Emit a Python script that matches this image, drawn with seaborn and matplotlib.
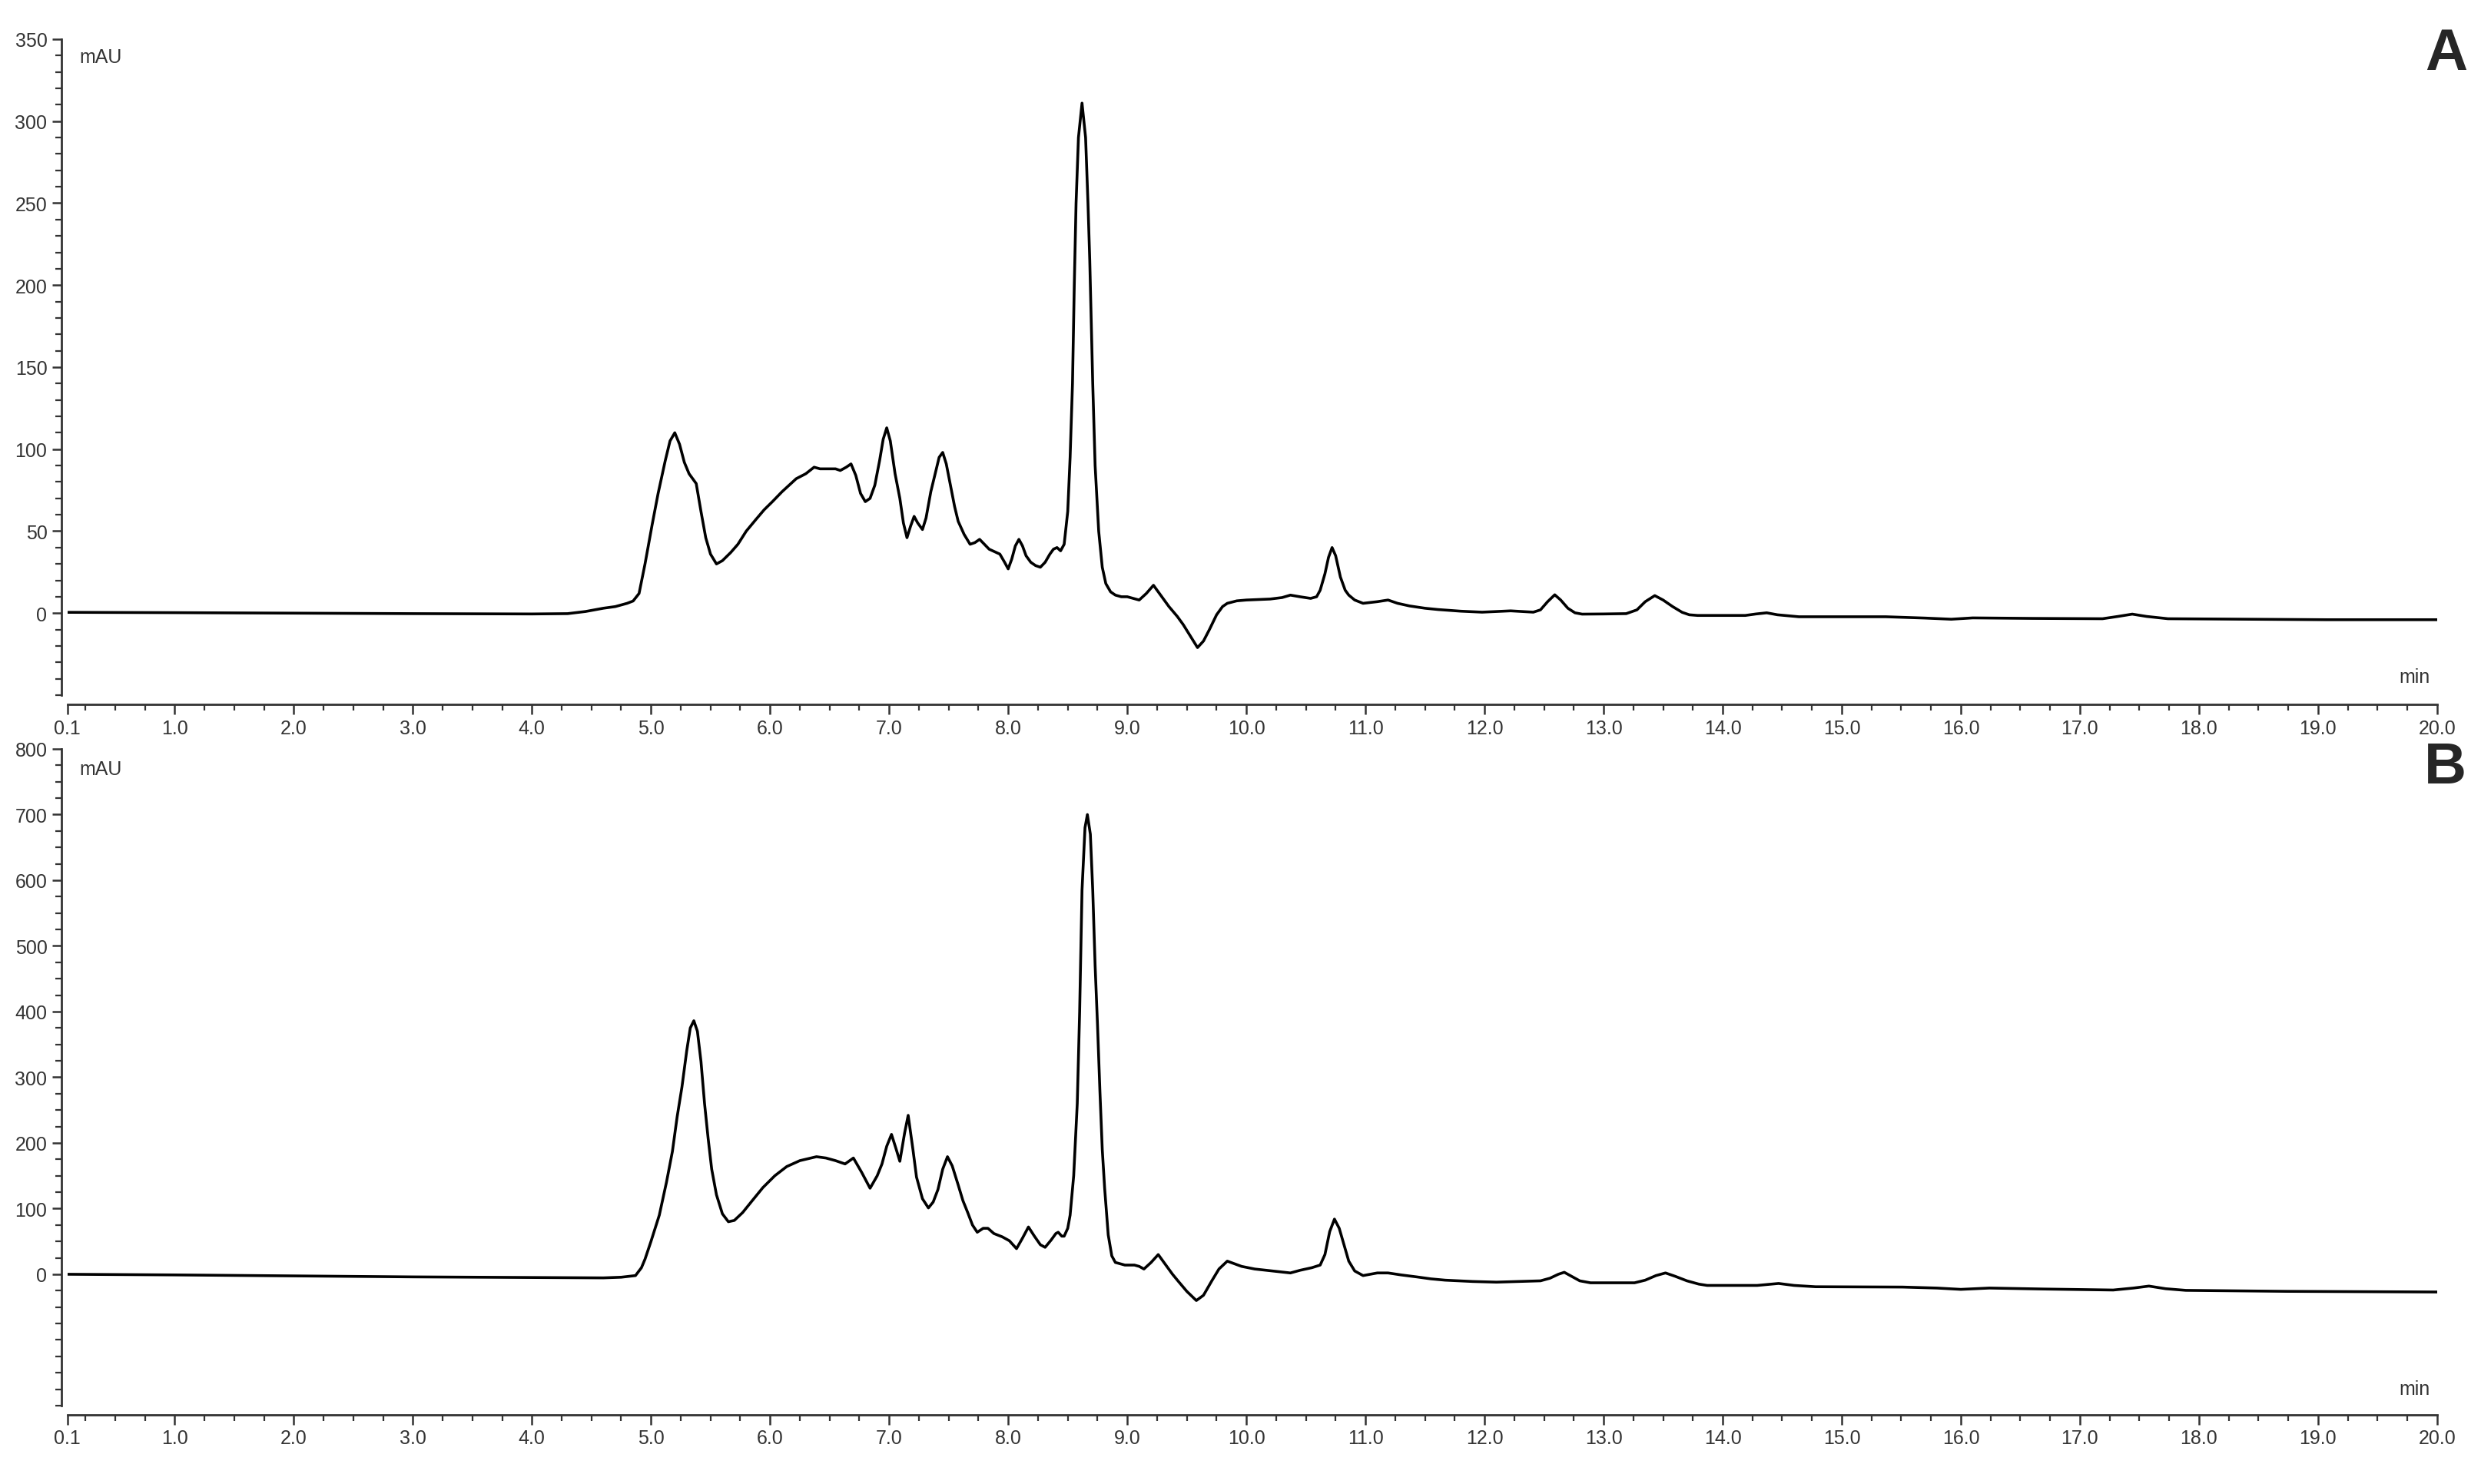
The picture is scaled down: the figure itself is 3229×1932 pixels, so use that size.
import numpy as np
import pandas as pd
import seaborn as sns
import matplotlib.pyplot as plt
from matplotlib.ticker import FixedLocator, MultipleLocator

# chromatogram A (retention time in min, absorbance in mAU)
time_a = [0.1, 1.0, 2.0, 3.0, 4.0, 4.3, 4.45, 4.6, 4.7, 4.8, 4.85, 4.9, 4.95, 5.01, 5.06, 5.12, 5.16, 5.2, 5.24, 5.28, 5.32, 5.38, 5.42, 5.46, 5.5, 5.55,
          5.6, 5.67, 5.73, 5.8, 5.88, 5.95, 6.02, 6.1, 6.16, 6.22, 6.3, 6.37, 6.42, 6.47, 6.51, 6.55, 6.59, 6.64, 6.68, 6.72, 6.76, 6.8, 6.84, 6.88,
          6.92, 6.95, 6.98, 7.01, 7.05, 7.09, 7.12, 7.15, 7.18, 7.21, 7.24, 7.28, 7.31, 7.35, 7.39, 7.42, 7.45, 7.48, 7.52, 7.55,
          7.58, 7.63, 7.68, 7.72, 7.76, 7.8, 7.84, 7.9, 7.93, 7.97, 8.0, 8.03, 8.06, 8.09, 8.12, 8.15, 8.19, 8.23, 8.27, 8.31,
          8.35, 8.38, 8.41, 8.44, 8.47,
          8.5, 8.52, 8.54, 8.555, 8.57, 8.59, 8.62, 8.65, 8.67, 8.685, 8.71, 8.73, 8.76, 8.79, 8.82, 8.86,
          8.9, 8.95, 9.0, 9.05, 9.1, 9.16, 9.22, 9.27, 9.35, 9.42, 9.47, 9.53, 9.59, 9.64, 9.69, 9.75, 9.8, 9.84,
          9.92, 10.0, 10.1, 10.2, 10.3, 10.37, 10.45, 10.54, 10.59, 10.62, 10.66, 10.69, 10.72, 10.75, 10.79, 10.83, 10.86, 10.91, 10.98, 11.1,
          11.19, 11.27, 11.37, 11.5, 11.61, 11.8, 11.98, 12.22, 12.41, 12.47, 12.53, 12.59, 12.64, 12.7, 12.76, 12.82, 13.0, 13.19, 13.28,
          13.35, 13.43, 13.5, 13.58, 13.66, 13.72, 13.79, 14.19, 14.28, 14.37, 14.46, 14.64, 15.37, 15.7, 15.92, 16.1, 16.6, 17.19, 17.32, 17.44,
          17.56, 17.74, 18.4, 19.07, 20.0]
mau_a = [0.5, 0.3, 0.0, -0.3, -0.5, -0.3, 1, 3, 4, 6, 7.4, 12, 30, 54, 73, 93, 105, 110, 103, 92, 85, 79, 62, 46, 36, 30,
         32, 37, 42, 50, 57, 63, 68, 74, 78, 82, 85, 89, 88, 88, 88, 88, 87, 89, 91, 84, 73, 68, 70, 78,
         93, 106, 113, 105, 85, 70, 55, 46, 53, 59, 55, 51, 58, 74, 86, 95, 98, 91, 76, 65,
         56, 48, 42, 43, 45, 42, 39, 37, 36, 31, 27, 33, 41, 45, 41, 35, 31, 29, 28, 31,
         36, 39, 40, 38, 42,
         62, 95, 140, 200, 250, 290, 311, 290, 250, 215, 140, 90, 50, 28, 18, 13,
         11, 10, 10, 9, 8, 12, 17, 12, 4, -2, -7, -14, -21, -17, -10, -1, 4, 6,
         7.5, 8, 8.3, 8.6, 9.5, 11, 10, 9, 10, 14, 24, 34, 40, 35, 22, 14, 11, 8, 6, 7,
         8, 6, 4.4, 3, 2.2, 1.2, 0.6, 1.4, 0.6, 2, 7, 11.2, 8, 3, 0.2, -0.6, -0.5, -0.3, 2,
         7, 10.7, 8, 4, 0.5, -1, -1.4, -1.4, -0.5, 0.2, -1, -2.2, -2.2, -3, -3.7, -2.9, -3.2, -3.4, -2, -0.6,
         -2, -3.4, -3.7, -4, -4]

# chromatogram B
time_b = [0.1, 1.0, 2.0, 3.0, 4.0, 4.6, 4.75, 4.87, 4.92, 4.95, 5.0, 5.07, 5.13, 5.18, 5.22, 5.26, 5.3, 5.33, 5.36, 5.39,
          5.42, 5.45, 5.48, 5.51, 5.55, 5.6, 5.65, 5.7, 5.77, 5.85, 5.94, 6.04, 6.14, 6.25, 6.39, 6.47, 6.55, 6.63, 6.7, 6.77,
          6.84, 6.9, 6.94,
          6.98, 7.02, 7.06, 7.09, 7.13, 7.16, 7.2, 7.23, 7.28, 7.33, 7.37, 7.41, 7.45, 7.49, 7.53, 7.58, 7.62, 7.66, 7.7,
          7.74, 7.79, 7.83, 7.88, 7.95, 8.01, 8.07, 8.12, 8.17, 8.22, 8.27, 8.31, 8.36, 8.4, 8.42, 8.45, 8.47,
          8.5, 8.52, 8.55, 8.58, 8.6, 8.62, 8.645, 8.665, 8.69, 8.71, 8.73, 8.75, 8.77, 8.79, 8.81, 8.84, 8.87,
          8.9, 8.98, 9.06, 9.1, 9.14, 9.2, 9.26, 9.32, 9.38, 9.43, 9.5, 9.58, 9.64, 9.71, 9.77, 9.84, 9.9, 9.96, 10.07,
          10.17, 10.27, 10.37, 10.45, 10.55, 10.62, 10.66, 10.7, 10.74, 10.78, 10.82, 10.86, 10.91, 10.98, 11.1,
          11.19, 11.3, 11.43, 11.55, 11.67, 11.9, 12.1, 12.47, 12.55, 12.62, 12.67, 12.73, 12.8, 12.89, 13.26, 13.35, 13.44, 13.52, 13.6,
          13.7, 13.8, 13.87, 14.29, 14.47, 14.6, 14.78, 15.51, 15.8, 16.0, 16.24, 16.7, 17.28, 17.45, 17.58, 17.72, 17.89, 18.74, 20.0]
mau_b = [0, -1, -2.5, -4, -5, -5.5, -4.5, -2, 10, 23, 50, 90, 140, 187, 240, 285, 340, 375, 386, 370,
         324, 260, 207, 160, 121, 92, 80, 82, 94, 112, 132, 150, 164, 173, 179, 177, 173, 168, 177, 155,
         131, 150, 168,
         195, 213, 190, 172, 215, 242, 190, 148, 115, 101, 110, 129, 160, 179, 165, 136, 112, 94, 75,
         64, 70, 70, 62, 57, 51, 39, 55, 72, 58, 45, 41, 52, 62, 64, 58, 58,
         70, 90, 150, 260, 400, 585, 680, 700, 670, 585, 470, 380, 280, 190, 131, 60, 28,
         18, 14, 14, 12, 8, 18, 30, 15, 0, -11, -26, -40, -32, -10, 8, 20, 16, 12, 8,
         6, 4, 2, 6, 10, 14, 30, 65, 84, 70, 45, 20, 5, -2, 2,
         2, -1, -4, -7, -9, -11, -12, -10, -6, 0, 3, -3, -10, -13, -13, -9, -2, 2, -3,
         -10, -15, -17, -17, -14, -17, -19, -19.5, -21, -23, -21, -22.5, -24, -21, -18, -22, -24.5, -26, -27]

x_major = [0.1] + list(range(1, 21))
ylim_a, ystep_a, yminor_a = (-50, 350), 50, 10
ylim_b, ystep_b, yminor_b = (-200, 800), 100, 25

sns.set_style("ticks")
plt.rcParams["font.family"] = ["Liberation Sans", "DejaVu Sans"]

fig = plt.figure(figsize=(32.3, 19.33), dpi=100)
ax_a = fig.add_axes([0.0272, 0.5313, 0.9548, 0.4418])
ax_b = fig.add_axes([0.0272, 0.0528, 0.9548, 0.4423])

df_a = pd.DataFrame({"t": time_a, "mAU": mau_a})
df_b = pd.DataFrame({"t": time_b, "mAU": mau_b})


def style(ax, ylim, ystep, yminor):
    ax.set_xlim(0.1, 20.0)
    ax.set_ylim(*ylim)
    ax.xaxis.set_major_locator(FixedLocator(x_major))
    ax.set_xticklabels([f"{v:.1f}" for v in x_major])
    ax.xaxis.set_minor_locator(MultipleLocator(0.25))
    ax.yaxis.set_major_locator(FixedLocator(list(range(0, ylim[1] + 1, ystep))))
    ax.yaxis.set_minor_locator(MultipleLocator(yminor))
    ax.set_xlabel("")
    ax.set_ylabel("")
    for side in ["top", "right"]:
        ax.spines[side].set_visible(False)
    ax.spines["left"].set_position(("outward", 6))
    ax.spines["bottom"].set_position(("outward", 9))
    for side in ["left", "bottom"]:
        ax.spines[side].set_linewidth(2.0)
        ax.spines[side].set_color("#333333")
    ax.tick_params(which="major", length=9, width=1.8, color="#333333",
                   labelsize=18, labelcolor="#333333", pad=4)
    ax.tick_params(which="minor", length=6, width=1.6, color="#333333")


for ax, df, lim, step, minor in [(ax_a, df_a, ylim_a, ystep_a, yminor_a),
                                 (ax_b, df_b, ylim_b, ystep_b, yminor_b)]:
    sns.lineplot(data=df, x="t", y="mAU", ax=ax, color="black", lw=2.6,
                 estimator=None, sort=False)
    style(ax, lim, step, minor)

# unit labels and panel letters
fig.text(0.0319, 0.9612, "mAU", fontsize=18, color="#333333", va="center")
fig.text(0.0319, 0.4816, "mAU", fontsize=18, color="#333333", va="center")
fig.text(0.979, 0.5437, "min", fontsize=18, color="#333333", va="center", ha="right")
fig.text(0.979, 0.0641, "min", fontsize=18, color="#333333", va="center", ha="right")
fig.text(0.9858, 0.9628, "A", fontsize=55, fontweight="bold", ha="center", va="center")
fig.text(0.9854, 0.4822, "B", fontsize=55, fontweight="bold", ha="center", va="center")

fig.savefig("out.png", dpi=100)
